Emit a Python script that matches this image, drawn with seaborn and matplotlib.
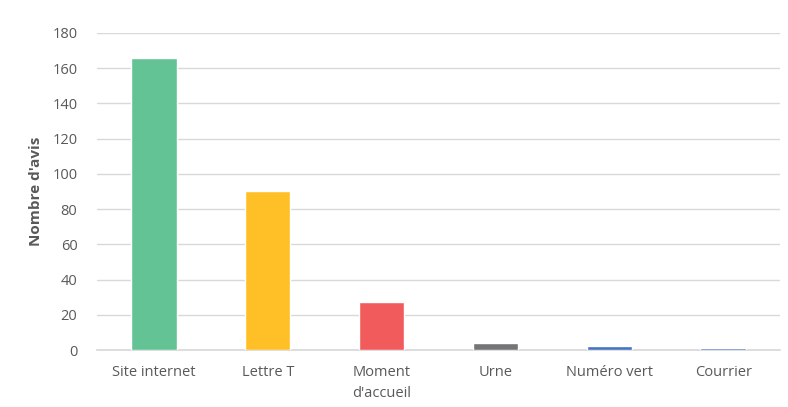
import matplotlib
matplotlib.use("Agg")
import matplotlib.pyplot as plt
import seaborn as sns
import pandas as pd

categories = ["Site internet", "Lettre T", "Moment\nd'accueil", "Urne", "Numéro vert", "Courrier"]
values = [166, 90, 27, 4, 2, 1]
colors = ["#63C394", "#FFBF27", "#F15B5B", "#747577", "#4472C4", "#4472C4"]
y_ticks = [0, 20, 40, 60, 80, 100, 120, 140, 160, 180]

sns.set_theme(style="white")
plt.rcParams['font.family'] = ['Open Sans', 'DejaVu Sans']

df = pd.DataFrame({"cat": categories, "val": values})

fig = plt.figure(figsize=(7.88, 4.07), dpi=100)
ax = fig.add_axes([0.123, 0.14, 0.867, 0.779])
sns.barplot(data=df, x="cat", y="val", hue="cat", palette=colors, legend=False,
            width=0.4, ax=ax, saturation=1, zorder=3)

ax.set_ylim(0, 180)
ax.set_yticks(y_ticks)
ax.yaxis.grid(True, color="#D9D9D9", linewidth=1)
ax.set_axisbelow(True)
for s in ["top", "right", "left"]:
    ax.spines[s].set_visible(False)
ax.spines["bottom"].set_color("#D9D9D9")
ax.spines["bottom"].set_zorder(1)
ax.tick_params(axis="both", length=0, colors="#595959", labelsize=10.5)
ax.tick_params(axis="y", pad=14)
ax.tick_params(axis="x", pad=11)
for lbl in ax.get_xticklabels():
    lbl.set_linespacing(1.5)
ax.set_xlabel("")
ax.set_ylabel("Nombre d'avis", fontsize=11, fontweight="bold", color="#595959", labelpad=7)

fig.savefig("out.png", dpi=100)
